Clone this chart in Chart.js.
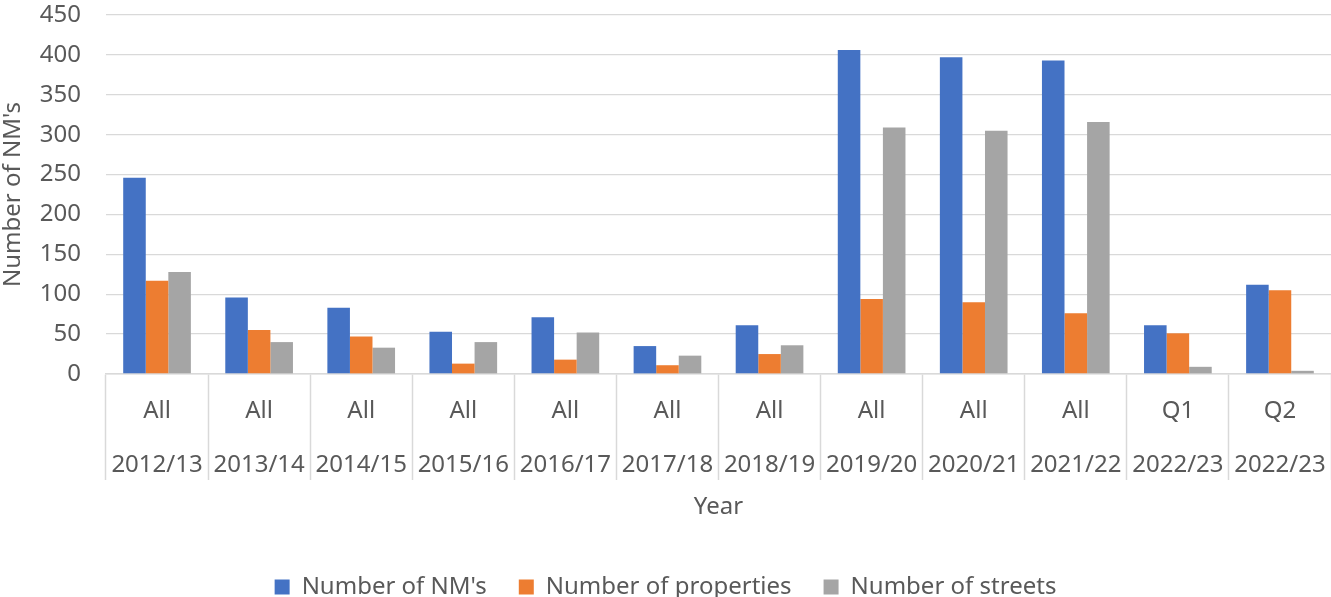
<!DOCTYPE html>
<html>
<head>
<meta charset="utf-8">
<script src="https://cdn.jsdelivr.net/npm/chart.js@4"></script>
<style>
    html, body { margin: 0; padding: 0; background: #fff; overflow: hidden; }
</style>
</head>
<body>
<canvas id="nmChart" width="1331" height="597"></canvas>
<script>
// Chart data
const periods = ['All', 'All', 'All', 'All', 'All', 'All', 'All', 'All', 'All', 'All', 'Q1', 'Q2'];
const years = ['2012/13', '2013/14', '2014/15', '2015/16', '2016/17', '2017/18', '2018/19',
    '2019/20', '2020/21', '2021/22', '2022/23', '2022/23'];
const nmCounts = [246, 96, 83, 53, 71, 35, 61, 406, 397, 393, 61, 112];
const propertyCounts = [117, 55, 47, 13, 18, 11, 25, 94, 90, 76, 51, 105];
const streetCounts = [128, 40, 33, 40, 52, 23, 36, 309, 305, 316, 9, 4];
const yTicks = [0, 50, 100, 150, 200, 250, 300, 350, 400, 450];

const textColor = '#595959';
const gridColor = '#d9d9d9';
const fontFamily = "'Noto Sans', 'Open Sans', sans-serif";

Chart.defaults.font.family = fontFamily;
Chart.defaults.color = textColor;

// two-line category labels: period on top, year below
const labels = periods.map((p, i) => [p, years[i]]);

// fix legend height so the chart area lands where it should
const legendHeight = {
    id: 'legendHeight',
    beforeInit(chart) {
        const fit = chart.legend.fit;
        chart.legend.fit = function () {
            fit.bind(chart.legend)();
            this.height = 54;
        };
    }
};

function makeSet(label, data, color) {
    return {
        label: label,
        data: data,
        backgroundColor: color,
        borderWidth: 0,
        categoryPercentage: 0.663,
        barPercentage: 1.0
    };
}

const ctx = document.getElementById('nmChart').getContext('2d');
new Chart(ctx, {
    type: 'bar',
    data: {
        labels: labels,
        datasets: [
            makeSet("Number of NM's", nmCounts, '#4472C4'),
            makeSet('Number of properties', propertyCounts, '#ED7D31'),
            makeSet('Number of streets', streetCounts, '#A5A5A5')
        ]
    },
    options: {
        responsive: false,
        animation: false,
        layout: {
            padding: { top: 15, right: 0, left: 0, bottom: 0 }
        },
        plugins: {
            tooltip: { enabled: false },
            legend: {
                position: 'bottom',
                labels: {
                    boxWidth: 15,
                    boxHeight: 15,
                    padding: 32,
                    color: textColor,
                    font: { size: 24 }
                }
            }
        },
        scales: {
            x: {
                grid: {
                    drawOnChartArea: false,
                    drawTicks: true,
                    tickLength: 106,
                    tickColor: gridColor,
                    tickWidth: 1.5,
                    offset: true
                },
                border: { color: gridColor, width: 1.5 },
                ticks: {
                    maxRotation: 0,
                    autoSkip: false,
                    padding: -96,
                    color: textColor,
                    font: { size: 24, lineHeight: 2.25 }
                },
                title: {
                    display: true,
                    text: 'Year',
                    color: textColor,
                    font: { size: 24 },
                    padding: { top: 0, bottom: 21 }
                },
                afterFit(scale) {
                    scale.height = 169;
                }
            },
            y: {
                min: 0,
                max: 450,
                afterBuildTicks(scale) {
                    scale.ticks = yTicks.map(v => ({ value: v }));
                },
                grid: {
                    color: gridColor,
                    lineWidth: 1.3,
                    drawTicks: false
                },
                border: { display: false },
                ticks: {
                    padding: 25,
                    color: textColor,
                    font: { size: 24 }
                },
                title: {
                    display: true,
                    text: "Number of NM's",
                    color: textColor,
                    font: { size: 24, lineHeight: 1.1 },
                    padding: { top: 0, bottom: 0 }
                },
                afterFit(scale) {
                    scale.width = 106;
                    // tick padding would otherwise push the plot area down
                    scale.paddingTop = 0;
                    scale.paddingBottom = 0;
                }
            }
        }
    },
    plugins: [legendHeight]
});
</script>
</body>
</html>
